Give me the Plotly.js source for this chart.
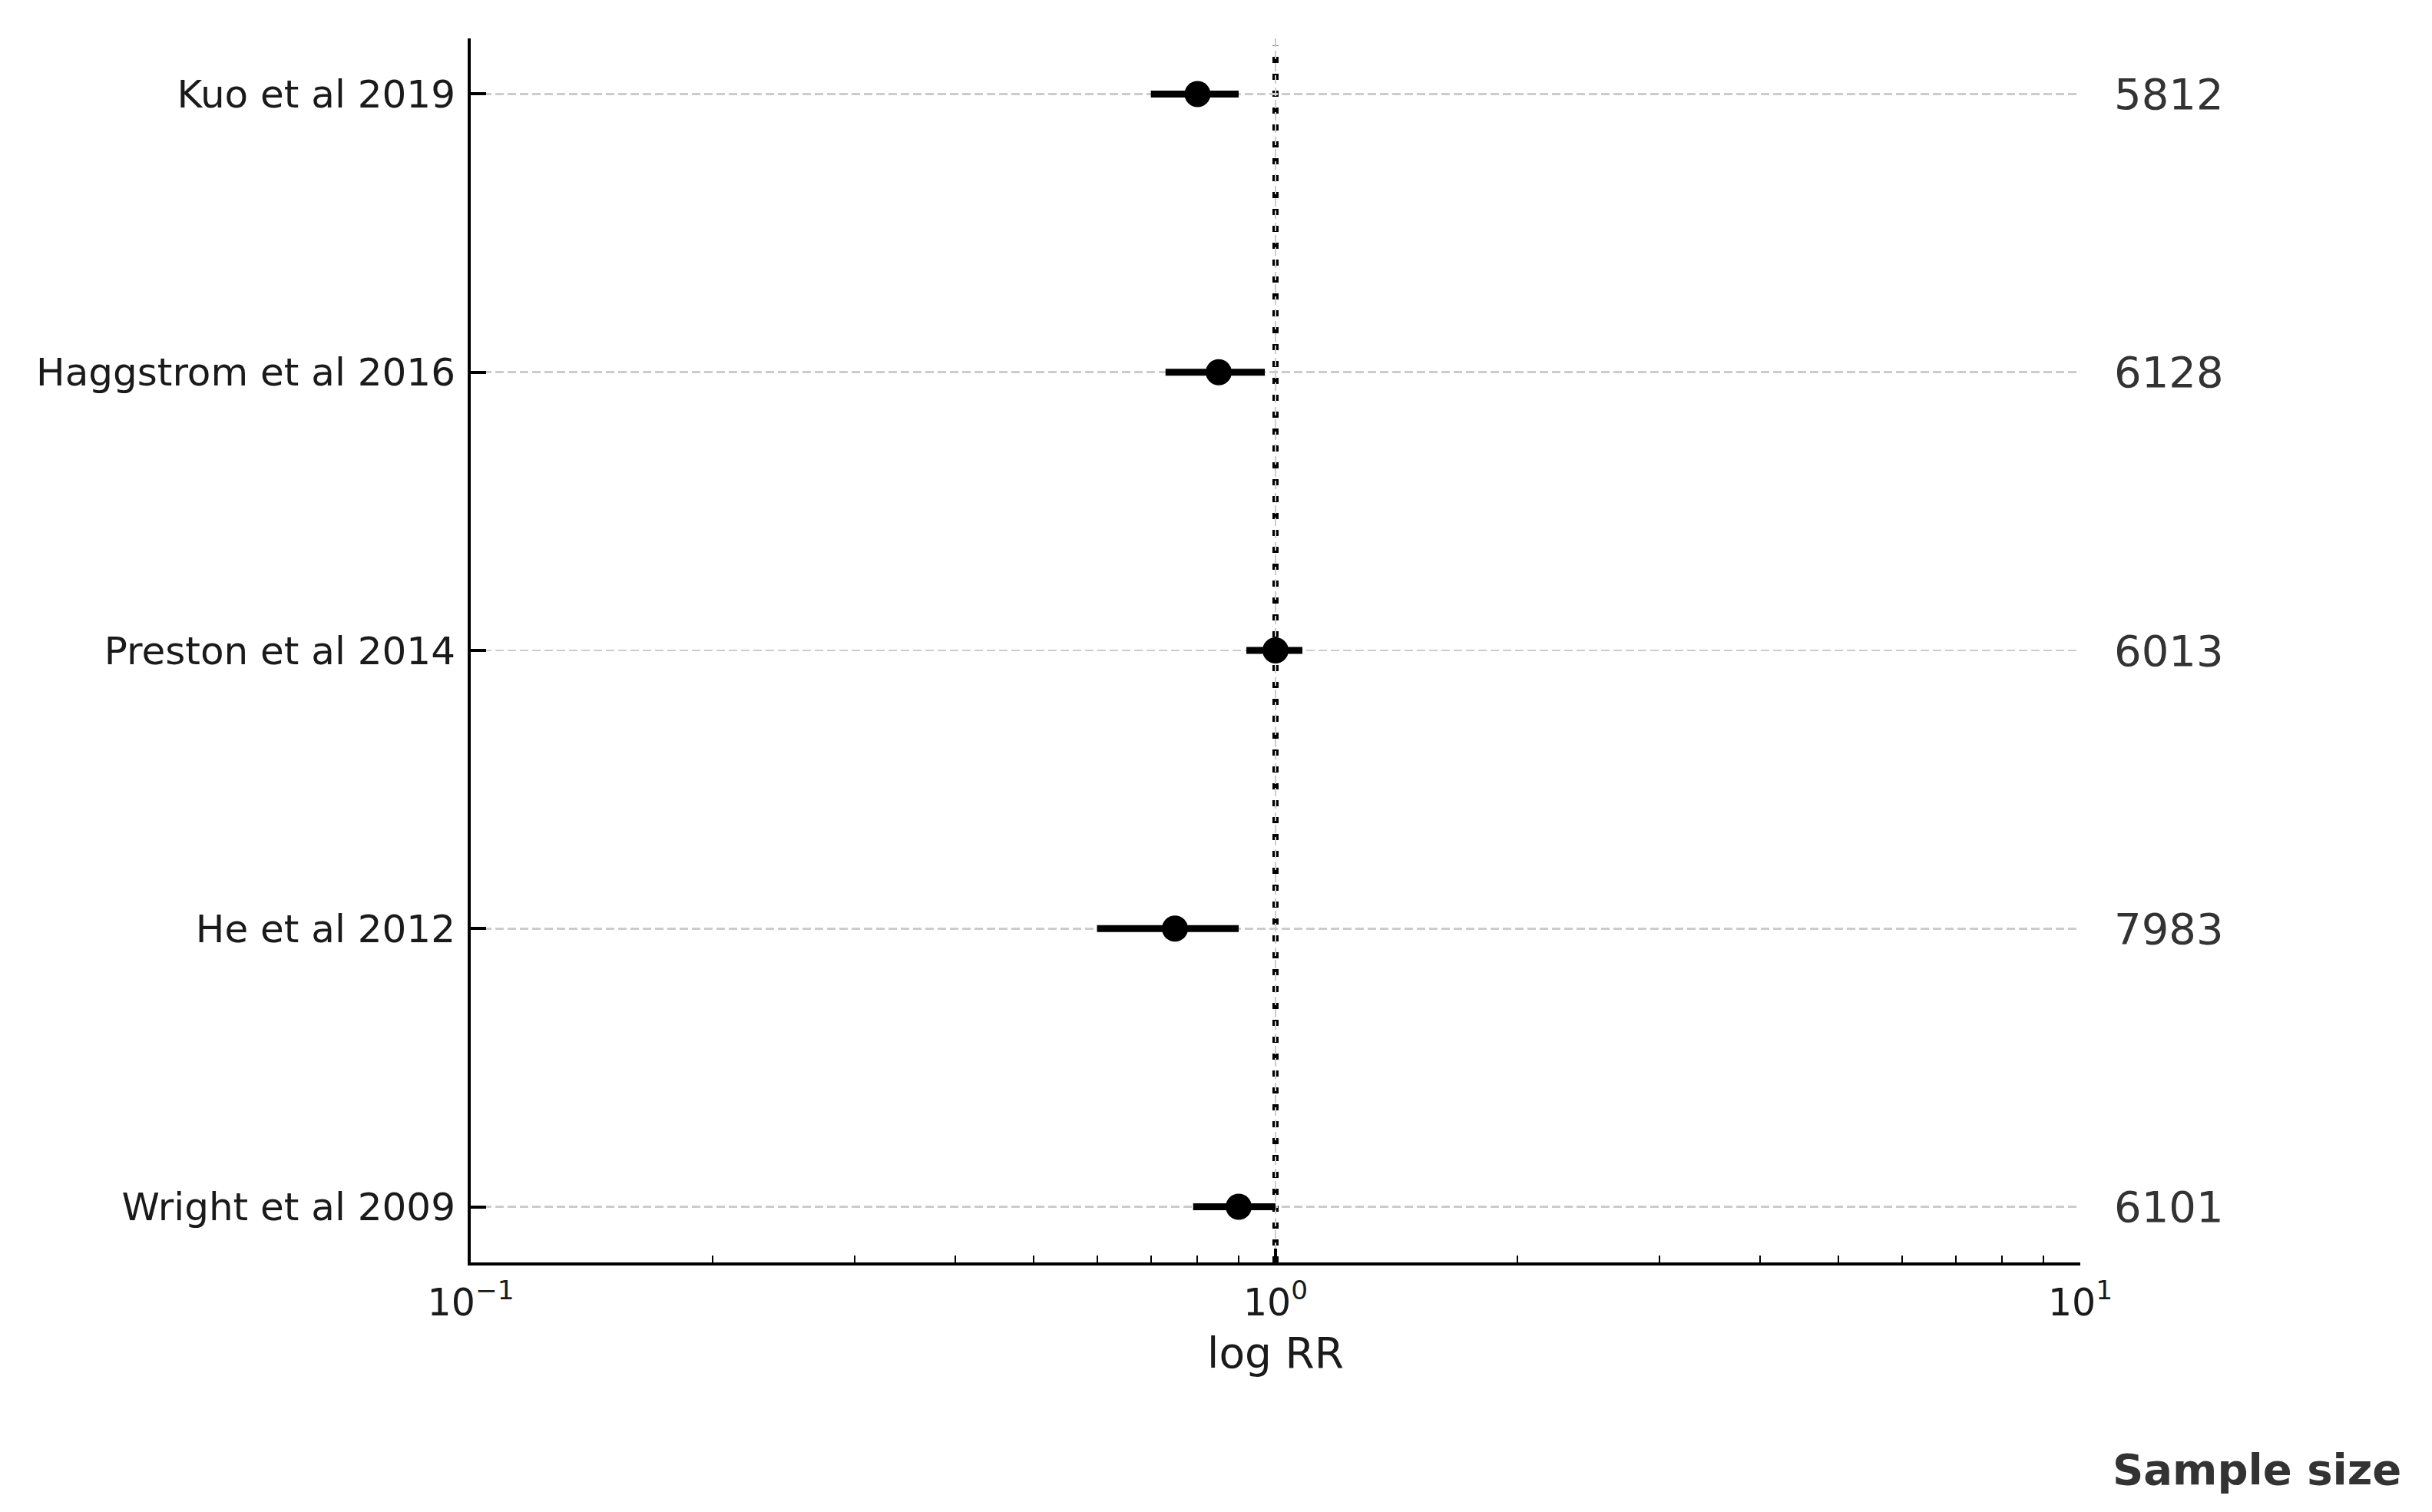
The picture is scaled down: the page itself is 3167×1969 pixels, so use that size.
<!DOCTYPE html>
<html>
<head>
<meta charset="utf-8">
<script src="https://cdn.plot.ly/plotly-3.0.1.min.js"></script>
<style>
  html, body { margin: 0; padding: 0; background: #ffffff; }
  #chart { width: 3167px; height: 1969px; }
</style>
</head>
<body>
<div id="chart"></div>
<script>
// ---- data (top to bottom as shown) ----
const studies     = ["Kuo et al 2019", "Haggstrom et al 2016", "Preston et al 2014", "He et al 2012", "Wright et al 2009"];
const rr          = [0.80, 0.85, 1.00, 0.75, 0.90];
const ciLower     = [0.70, 0.73, 0.92, 0.60, 0.79];
const ciUpper     = [0.90, 0.97, 1.08, 0.90, 1.00];
const sampleSizes = [5812, 6128, 6013, 7983, 6101];
const xTickVals   = [0.1, 1, 10];
const xTickText   = ["10<sup>\u22121</sup>", "10<sup>0</sup>", "10<sup>1</sup>"];
const referenceRR = 1;
const xTitle      = "log RR";
const sideTitle   = "Sample size";

const FONT = "DejaVu Sans, Liberation Sans, sans-serif";

const errPlus  = rr.map((v, i) => ciUpper[i] - v);
const errMinus = rr.map((v, i) => v - ciLower[i]);

const trace = {
  type: "scatter",
  mode: "markers",
  x: rr,
  y: studies,
  marker: { color: "#000000", size: 34, line: { width: 0 } },
  error_x: {
    type: "data",
    symmetric: false,
    array: errPlus,
    arrayminus: errMinus,
    color: "#000000",
    thickness: 9,
    width: 0
  },
  hoverinfo: "skip",
  showlegend: false,
  cliponaxis: false
};

const gridStyle = { gridcolor: "#cccccc", gridwidth: 2.5, griddash: "11px,5px" };

const annotations = studies.map((s, i) => ({
  x: 1, xref: "paper", xanchor: "left", xshift: 42,
  y: s, yref: "y", yanchor: "middle",
  text: String(sampleSizes[i]),
  showarrow: false,
  font: { family: FONT, size: 56, color: "#333333" }
}));
annotations.push({
  x: 1, xref: "paper", xanchor: "left", xshift: 40,
  y: -0.169, yref: "paper", yanchor: "middle",
  text: "<b>" + sideTitle + "</b>",
  showarrow: false,
  font: { family: FONT, size: 56, color: "#333333" }
});

const layout = {
  width: 3167,
  height: 1969,
  paper_bgcolor: "#ffffff",
  plot_bgcolor: "#ffffff",
  margin: { l: 613, r: 458, t: 50, b: 325, pad: 0 },
  font: { family: FONT, color: "#1a1a1a" },
  showlegend: false,
  xaxis: Object.assign({
    type: "log",
    range: [-1, 1],
    tickmode: "array",
    tickvals: xTickVals,
    ticktext: xTickText,
    ticks: "inside",
    ticklen: 18,
    tickwidth: 4,
    tickcolor: "#000000",
    showline: true,
    linewidth: 4,
    linecolor: "#000000",
    mirror: false,
    showgrid: true,
    zeroline: false,
    tickfont: { family: FONT, size: 49, color: "#1a1a1a" },
    ticklabelstandoff: 6,
    minor: { dtick: "D1", ticks: "inside", ticklen: 9, tickwidth: 2, tickcolor: "#000000", showgrid: false },
    title: { text: xTitle, font: { family: FONT, size: 55, color: "#1a1a1a" }, standoff: 20 }
  }, gridStyle),
  yaxis: Object.assign({
    type: "category",
    categoryorder: "array",
    categoryarray: studies,
    range: [4.2, -0.2],
    ticks: "inside",
    ticklen: 20,
    tickwidth: 4,
    tickcolor: "#000000",
    showline: true,
    linewidth: 4,
    linecolor: "#000000",
    mirror: false,
    showgrid: true,
    zeroline: false,
    tickfont: { family: FONT, size: 50, color: "#1a1a1a" },
    ticklabelstandoff: 6
  }, gridStyle),
  shapes: [{
    type: "line",
    layer: "between",
    xref: "x", yref: "paper",
    x0: referenceRR, x1: referenceRR, y0: 0, y1: 0.994,
    line: { color: "#000000", width: 8, dash: "8px,14px" }
  }],
  annotations: annotations
};

Plotly.newPlot("chart", [trace], layout, { staticPlot: true, displayModeBar: false });
</script>
</body>
</html>
